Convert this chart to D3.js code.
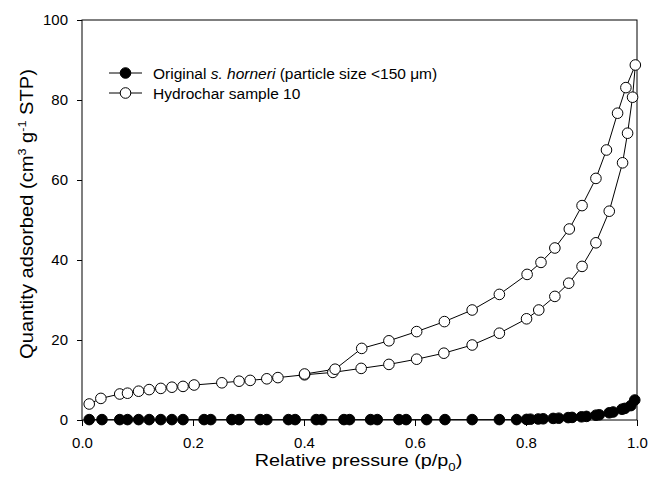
<!DOCTYPE html>
<html>
<head>
<meta charset="utf-8">
<script src="https://cdn.jsdelivr.net/npm/d3@7"></script>
<style>
  body { margin: 0; background: #fff; }
  text { font-family: Arial, "Liberation Sans", sans-serif; fill: #000; }
</style>
</head>
<body>
<script>
/* ------------------------------- chart data ------------------------------- */
// hydrochar sample 10, adsorption branch (rising p/p0)
const hydroAdsX = [0.013, 0.034, 0.068, 0.082, 0.102, 0.121, 0.142, 0.162, 0.182, 0.202, 0.252, 0.283, 0.303, 0.333, 0.353, 0.401, 0.452, 0.503, 0.553, 0.603, 0.652, 0.703, 0.752, 0.801, 0.823, 0.852, 0.877, 0.901, 0.926, 0.950, 0.974, 0.983, 0.992, 0.997]
const hydroAdsY = [4.0, 5.4, 6.5, 6.7, 7.2, 7.6, 7.9, 8.2, 8.4, 8.75, 9.3, 9.7, 9.9, 10.3, 10.6, 11.3, 11.9, 12.9, 13.9, 15.2, 16.7, 18.75, 21.7, 25.3, 27.5, 30.9, 34.2, 38.4, 44.3, 52.2, 64.3, 71.7, 80.7, 88.75]
// hydrochar sample 10, desorption branch (falling p/p0)
const hydroDesX = [0.980, 0.965, 0.945, 0.926, 0.901, 0.878, 0.852, 0.827, 0.802, 0.752, 0.703, 0.653, 0.603, 0.553, 0.504, 0.456, 0.401]
const hydroDesY = [83.1, 76.7, 67.5, 60.4, 53.6, 47.75, 43.0, 39.4, 36.4, 31.4, 27.5, 24.6, 22.1, 19.8, 17.9, 12.7, 11.5]
// original s. horneri
const origX = [0.013, 0.036, 0.068, 0.082, 0.102, 0.121, 0.142, 0.162, 0.182, 0.220, 0.232, 0.270, 0.283, 0.321, 0.333, 0.372, 0.384, 0.422, 0.432, 0.472, 0.482, 0.520, 0.532, 0.571, 0.584, 0.621, 0.654, 0.703, 0.752, 0.783, 0.801, 0.808, 0.822, 0.831, 0.849, 0.859, 0.876, 0.883, 0.900, 0.909, 0.926, 0.932, 0.950, 0.957, 0.973, 0.978, 0.989, 0.996]
const origY = [0.1, 0.1, 0.1, 0.1, 0.1, 0.1, 0.1, 0.1, 0.1, 0.1, 0.1, 0.1, 0.1, 0.1, 0.1, 0.1, 0.1, 0.1, 0.1, 0.1, 0.1, 0.1, 0.1, 0.1, 0.1, 0.1, 0.1, 0.1, 0.1, 0.1, 0.15, 0.2, 0.25, 0.3, 0.4, 0.45, 0.6, 0.65, 0.8, 0.9, 1.2, 1.3, 1.8, 2.0, 2.7, 2.9, 3.6, 5.0]

const xTicks = [0.0, 0.2, 0.4, 0.6, 0.8, 1.0]
const yTicks = [0, 20, 40, 60, 80, 100]

/* -------------------------- define document size -------------------------- */
const width = 650, height = 488
const margin = { top: 20, right: 13, bottom: 68, left: 82 }

const svg = d3.select("body").append("svg").attr('width', width).attr('height', height)

const x = d3.scaleLinear().domain([0, 1]).range([margin.left, width - margin.right])
const y = d3.scaleLinear().domain([0, 100]).range([height - margin.bottom, margin.top])

//frame
svg.append("rect")
    .attr("x", x(0)).attr("y", y(100))
    .attr("width", x(1) - x(0)).attr("height", y(0) - y(100))
    .attr("fill", "none").attr("stroke", "#000").attr("stroke-width", 1)

//axes
const xAxis = svg.append("g")
    .attr("transform", `translate(0,${y(0)})`)
    .call(d3.axisBottom(x).tickValues(xTicks).tickFormat(d3.format(".1f")).tickSize(6).tickPadding(11))
const yAxis = svg.append("g")
    .attr("transform", `translate(${x(0)},0)`)
    .call(d3.axisLeft(y).tickValues(yTicks).tickSize(5).tickPadding(9))
for (const g of [xAxis, yAxis]) {
    g.select(".domain").remove()
    g.selectAll("text").style("font-size", "15px").style("font-family", "Arial, 'Liberation Sans', sans-serif")
}

//axis titles (the original type is a little wider than Arial, so stretch it)
svg.append("text")
    .attr("transform", `translate(${x(0.5) - 1},466) scale(1.2,1)`)
    .attr("text-anchor", "middle").style("font-size", "16.5px")
    .call(t => {
        t.append("tspan").text("Relative pressure (p/p")
        t.append("tspan").attr("dy", 5).style("font-size", "11px").text("0")
        t.append("tspan").attr("dy", -5).text(")")
    })
svg.append("text")
    .attr("transform", `translate(33,${(y(0) + y(100)) / 2 - 6}) rotate(-90) scale(1.15,1)`)
    .attr("text-anchor", "middle").style("font-size", "17.5px")
    .call(t => {
        t.append("tspan").text("Quantity adsorbed (cm")
        t.append("tspan").attr("dy", -7).style("font-size", "11px").text("3")
        t.append("tspan").attr("dy", 7).text(" g")
        t.append("tspan").attr("dy", -7).style("font-size", "11px").text("-1")
        t.append("tspan").attr("dy", 7).text(" STP)")
    })

/* ------------------------------- series ---------------------------------- */
const line = d3.line().x(d => x(d[0])).y(d => y(d[1]))
const hydro = hydroAdsX.map((v, i) => [v, hydroAdsY[i]])
    .concat(hydroDesX.map((v, i) => [v, hydroDesY[i]]))
const orig = origX.map((v, i) => [v, origY[i]])

const series = [
    { data: orig, fill: "#000" },
    { data: hydro, fill: "#fff" }
]
series.forEach(s => {
    svg.append("path").datum(s.data).attr("d", line)
        .attr("fill", "none").attr("stroke", "#000").attr("stroke-width", 1)
    svg.append("g").selectAll("circle").data(s.data).enter().append("circle")
        .attr("cx", d => x(d[0])).attr("cy", d => y(d[1])).attr("r", 5.3)
        .attr("fill", s.fill).attr("stroke", "#000").attr("stroke-width", 1)
})

/* ------------------------------- legend ---------------------------------- */
const legend = svg.append("g")
legend.selectAll("g").data(series).enter().append("g")
    .attr("transform", (d, i) => `translate(109,${73 + i * 20})`)
    .each(function (d, i) {
        const g = d3.select(this)
        g.append("line").attr("x1", 0).attr("x2", 33).attr("stroke", "#000")
        g.append("circle").attr("cx", 16.5).attr("r", 5.3).attr("fill", d.fill).attr("stroke", "#000")
        const t = g.append("text").attr("x", 44).attr("y", 5.5).style("font-size", "15.5px")
        if (i === 0) {
            t.append("tspan").text("Original ")
            t.append("tspan").style("font-style", "italic").text("s. horneri")
            t.append("tspan").text(" (particle size <150 \u03bcm)")
        } else {
            t.text("Hydrochar sample 10")
        }
    })
</script>
</body>
</html>
